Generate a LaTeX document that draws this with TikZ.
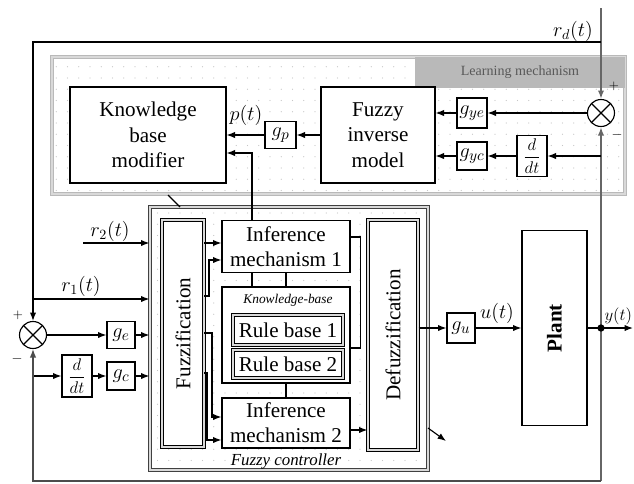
\documentclass[tikz,border=0pt]{standalone}
\usepackage{fontspec}
\setmainfont{Liberation Serif}
\usepackage{amsmath}
\usepackage{graphicx}
\usetikzlibrary{arrows.meta}
\usetikzlibrary{calc}
\usetikzlibrary{patterns.meta}

\tikzdeclarepattern{
  name=ltdots,
  type=uncolored,
  bottom left={(-.5pt,-.5pt)},
  top right={(7.5pt,7.5pt)},
  tile size={(8pt,8pt)},
  code={\fill (0,0) circle (0.45pt);}
}

\begin{document}
\begin{tikzpicture}[x=0.025cm,y=-0.025cm,line width=0.8pt,
    >={Latex[length=6pt,width=4.5pt]},
    sz/.style 2 args={minimum width=#1*0.025cm,minimum height=#2*0.025cm},
    blk/.style={draw,fill=white,inner sep=0pt,align=center,font=\fontsize{15}{18}\selectfont},
    dbl/.style={double=gray!30,double distance=1.1pt},
    area/.style={inner sep=0pt,pattern=ltdots,pattern color=gray!45},
    sig/.style={font=\fontsize{14}{16}\selectfont},
    thk/.style={line width=1.6pt,draw=black!60},
    summer/.style={draw,circle,fill=white,minimum size=27*0.025cm,inner sep=0pt,
      path picture={\draw (path picture bounding box.north west) -- (path picture bounding box.south east)
                          (path picture bounding box.south west) -- (path picture bounding box.north east);}}]
    \useasboundingbox (0,0) rectangle (634,483);

    \node [area,sz={573}{137},draw=gray!55,dbl] (lm) at (338.5,125.5) {};
    \node [sz={210}{31},fill=gray!55,inner sep=0pt,text=black!65,font=\fontsize{10}{12}\selectfont] (lmhead) at (520,72.5) {Learning mechanism};
    \node [area,sz={278}{263},draw=black!75,dbl] (fc) at (289,338.5) {};
    \node [font=\itshape\fontsize{12}{14}\selectfont] (fcl) at (286,461) {Fuzzy controller};

    \node [blk,sz={156}{96}] (kbm) at (148,135) {Knowledge\\base\\modifier};
    \node [blk,sz={31}{27}] (gp) at (280.5,135) {$g_p$};
    \node [blk,sz={114}{96}] (fim) at (378,135) {Fuzzy\\inverse\\model};
    \node [blk,sz={30}{30}] (gye) at (472,113) {$g_{ye}$};
    \node [blk,sz={30}{28}] (gyc) at (472,156) {$g_{yc}$};
    \node [blk,sz={30}{41},font=\fontsize{12}{14}\selectfont] (dd1) at (532,156) {$\dfrac{d}{dt}$};
    \node [summer] (suml) at (601,113) {};

    \node [summer] (sumc) at (33,335) {};
    \node [blk,sz={28}{27}] (ge) at (121,335) {$g_e$};
    \node [blk,sz={30}{42},font=\fontsize{12}{14}\selectfont] (dd2) at (77,376) {$\dfrac{d}{dt}$};
    \node [blk,sz={28}{28}] (gc) at (121,376) {$g_c$};

    \node [blk,dbl,sz={42}{227}] (fuzz) at (183,333.5) {\rotatebox{90}{Fuzzification}};
    \node [blk,sz={128}{52}] (im1) at (286,246.5) {Inference\\mechanism 1};
    \node [blk,sz={128}{96}] (kb) at (286,335) {};
    \node [font=\itshape\fontsize{9.5}{11}\selectfont] (kbl) at (288,300) {Knowledge-base};
    \node [blk,dbl,sz={110}{30}] (rb1) at (288,330) {Rule base 1};
    \node [blk,dbl,sz={110}{28}] (rb2) at (288,364) {Rule base 2};
    \node [blk,sz={128}{50}] (im2) at (286,423) {Inference\\mechanism 2};
    \node [blk,dbl,sz={50}{230}] (defz) at (393,335) {\rotatebox{90}{Defuzzification}};
    \node [blk,sz={28}{30}] (gu) at (461,328) {$g_u$};
    \node [blk,sz={65}{195}] (plant) at (554.5,328) {\rotatebox{90}{\textbf{Plant}}};

    \coordinate (rdtop) at (601,8);
    \coordinate (rdj) at (601,42);
    \coordinate (lc) at (33,42);
    \coordinate (r1j) at (33,299);
    \coordinate (r2s) at (83,243);
    \coordinate (ddj) at (33,376);
    \coordinate (ydot) at (601,328);
    \coordinate (fbk) at (601,481);
    \coordinate (yend) at (633,328);
    \coordinate (tapk) at (252,153);
    \coordinate (f1) at (204,243);
    \coordinate (f2) at (204,296);
    \coordinate (f3) at (204,333);
    \coordinate (f4) at (204,373);
    \coordinate (o2) at ($(im2.east)+(0,7)$);

    % reference and feedback paths
    \draw [->,thk] (rdtop) -- (suml.north);
    \draw (rdj) -- (lc) -- (r1j);
    \draw [->] (r1j) -- (sumc.north);
    \draw [->] (r1j) -- (r1j -| fc.west);
    \draw [->] (r2s) -- (r2s -| fc.west);
    \draw [->] (sumc.east) -- (ge.west);
    \draw [->] (ge.east) -- (ge.east -| fc.west);
    \draw [->] (ddj) -- (dd2.west);
    \draw [->] (dd2.east) -- (gc.west);
    \draw [->] (gc.east) -- (gc.east -| fc.west);
    \draw [->] (plant.east) -- (yend);
    \draw [->,thk] (ydot) -- (suml.south);
    \draw [thk] (ydot) -- (fbk);
    \draw [->,draw=black!70] (fbk) -| (sumc.south);
    \fill (ydot) circle (2.6pt);

    % learning mechanism
    \draw [->] (suml.west) -- (gye.east);
    \draw [->] (gye.west) -- (gye.west -| fim.east);
    \draw [->] (dd1.east -| suml) -- (dd1.east);
    \draw [->] (dd1.west) -- (gyc.east);
    \draw [->] (gyc.west) -- (gyc.west -| fim.east);
    \draw [->] (fim.west) -- (gp.east);
    \draw [->] (gp.west) -- (gp.west -| kbm.east);
    \draw [->] (im1.north -| tapk) |- (kbm.east |- tapk);

    % fuzzy controller
    \draw [->] (f1) -- (f1 -| im1.west);
    \draw [->] (f2) -- ++(5,0) |- ($(im1.west)+(0,13.5)$);
    \draw [->] (f3) -- ++(8,0) |- ($(im2.west)+(0,-6)$);
    \draw [->] (f4) -- ++(3,0) |- ($(im2.west)+(0,17)$);
    \draw (im1.south -| tapk) -- (kb.north -| tapk);
    \draw (im1.south) -- (kb.north);
    \draw (kb.south) -- (im2.north);
    \draw ($(im1.east)+(0,-9.5)$) -- ++(10,0) |- ($(kb.east)+(0,13)$);
    \draw [->] (o2) -- (o2 -| defz.west);
    \draw [->] (defz.east |- gu) -- (gu.west);
    \draw [->] (gu.east) -- (plant.west |- gu);
    \draw (168,195) -- (180,207);
    \draw [->] (428,428) -- (446,441);

    \node [sig] (pl) at (246,115) {$p(t)$};
    \node [sig] (rdl) at (573,31) {$r_d(t)$};
    \node [sig] (r2l) at (110,231) {$r_2(t)$};
    \node [sig] (r1l) at (81,286) {$r_1(t)$};
    \node [sig] (ul) at (497,313) {$u(t)$};
    \node [font=\fontsize{12}{14}\selectfont,anchor=east,inner sep=1pt] (yl) at (634,316) {$y(t)$};
    \node [font=\small] (pc) at (18,315) {$+$};
    \node (mc) at (17,359) {$-$};
    \node [font=\small] (pl2) at (614,86) {$+$};
    \node (ml) at (617,135) {$-$};
\end{tikzpicture}
\end{document}
